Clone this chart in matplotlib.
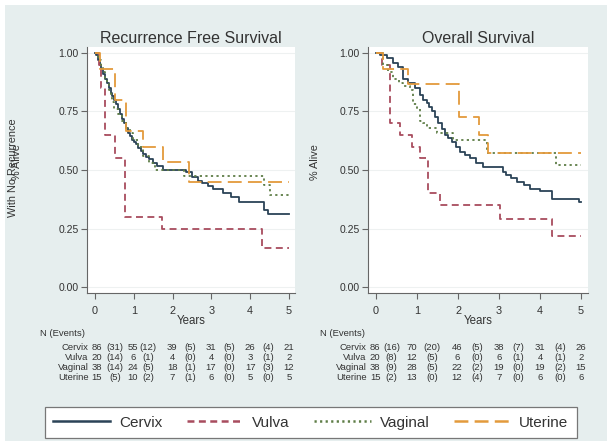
import matplotlib.pyplot as plt
from matplotlib.patches import Rectangle
from matplotlib.lines import Line2D

plt.rcParams['font.family'] = ['Liberation Sans', 'DejaVu Sans']
plt.rcParams['lines.scale_dashes'] = False

W, H = 616, 447

groups = ["Cervix", "Vulva", "Vaginal", "Uterine"]
colors = ["#2b4357", "#a84c5e", "#5e7d46", "#e39a3c"]
dashes = [None, (5, 3.2), (1.6, 2.4), (10, 4.5)]

# --- Recurrence free survival (Kaplan-Meier steps) ---
rfs_cervix_t = [0, .03, .07, .12, .16, .2, .25, .3, .35, .4, .45, .5, .55, .6, .65, .7, .75, .8, .85, .9,
                .95, 1.0, 1.06, 1.12, 1.18, 1.25, 1.32, 1.4, 1.5, 1.6, 1.75, 2.35, 2.5, 2.65, 2.75, 2.9,
                3.05, 3.3, 3.5, 3.7, 4.35, 4.45, 5.0]
rfs_cervix_s = [1, .99, .97, .95, .93, .91, .89, .87, .85, .83, .815, .80, .78, .76, .74, .72, .70, .68, .66, .645,
                .63, .62, .61, .595, .58, .57, .555, .545, .53, .515, .50, .49, .47, .455, .445, .43,
                .42, .40, .385, .365, .33, .31, .31]
rfs_vulva_t = [0, .1, .15, .26, .52, .77, 1.72, 4.3, 5.0]
rfs_vulva_s = [1, .95, .85, .65, .55, .30, .25, .167, .167]
rfs_vaginal_t = [0, .08, .15, .2, .25, .3, .35, .4, .45, .5, .6, .7, .8, .9, .97, 1.1, 1.25, 1.4, 1.55,
                 2.3, 4.35, 4.5, 5.0]
rfs_vaginal_s = [1, .97, .95, .92, .895, .87, .84, .82, .79, .76, .74, .71, .68, .66, .63, .60, .56, .53, .50,
                 .475, .435, .395, .395]
rfs_uterine_t = [0, .12, .52, .8, 1.24, 1.76, 2.42, 5.0]
rfs_uterine_s = [1, .933, .80, .667, .60, .533, .45, .45]

# --- Overall survival ---
os_cervix_t = [0, .1, .26, .42, .54, .67, .79, .95, 1.07, 1.15, 1.24, 1.3, 1.36, 1.44, 1.52, 1.6, 1.68,
               1.76, 1.85, 1.95, 2.05, 2.17, 2.29, 2.45, 2.62, 3.1, 3.18, 3.3, 3.43, 3.6, 3.76, 4.0,
               4.3, 4.95, 5.0]
os_cervix_s = [1, .99, .977, .956, .94, .89, .87, .85, .82, .80, .785, .77, .75, .725, .70, .675, .65,
               .635, .62, .60, .578, .565, .55, .53, .514, .493, .478, .465, .45, .435, .42, .41,
               .375, .365, .365]
os_vulva_t = [0, .15, .34, .59, .87, 1.07, 1.26, 1.56, 3.02, 4.28, 5.0]
os_vulva_s = [1, .95, .70, .65, .60, .55, .40, .35, .29, .22, .22]
os_vaginal_t = [0, .18, .3, .42, .55, .67, .83, .91, 1.0, 1.07, 1.15, 1.24, 1.48, 1.89, 2.7, 4.4, 5.0]
os_vaginal_s = [1, .95, .92, .89, .87, .86, .84, .78, .76, .71, .70, .68, .657, .628, .571, .52, .52]
os_uterine_t = [0, .18, .79, 2.03, 2.5, 2.74, 5.0]
os_uterine_s = [1, .933, .867, .728, .65, .571, .571]

# --- number at risk (events) tables ---
rfs_table_cervix = [86, 31, 55, 12, 39, 5, 31, 5, 26, 4, 21]
rfs_table_vulva = [20, 14, 6, 1, 4, 0, 4, 0, 3, 1, 2]
rfs_table_vaginal = [38, 14, 24, 5, 18, 1, 17, 0, 17, 3, 12]
rfs_table_uterine = [15, 5, 10, 2, 7, 1, 6, 0, 5, 0, 5]
os_table_cervix = [86, 16, 70, 20, 46, 5, 38, 7, 31, 4, 26]
os_table_vulva = [20, 8, 12, 5, 6, 0, 6, 1, 4, 1, 2]
os_table_vaginal = [38, 9, 28, 5, 22, 2, 19, 0, 19, 2, 15]
os_table_uterine = [15, 2, 13, 0, 12, 4, 7, 0, 6, 0, 6]

rfs_cols = [0.04, 0.52, 0.98, 1.37, 1.99, 2.46, 2.99, 3.46, 4.0, 4.46, 5.0]
os_cols = [-0.02, 0.38, 0.87, 1.36, 1.97, 2.46, 3.0, 3.46, 4.0, 4.49, 5.0]

fig = plt.figure(figsize=(W / 100, H / 100), dpi=100, facecolor="white")
fig.patches.append(Rectangle((5 / W, 1 - 441 / H), 602 / W, 436 / H, transform=fig.transFigure,
                             facecolor="#e6eeee", edgecolor="none", zorder=-5))


def setup(ax, title, xlim):
  ax.set_facecolor("white")
  ax.set_xlim(*xlim)
  ax.set_ylim(-0.0256, 1.0256)
  ax.set_yticks([0, .25, .5, .75, 1])
  ax.set_yticklabels(["0.00", "0.25", "0.50", "0.75", "1.00"])
  ax.set_xticks(range(6))
  ax.grid(axis="y", color="#eef1f1", linewidth=0.8)
  ax.set_axisbelow(True)
  for s in ["top", "right"]:
    ax.spines[s].set_visible(False)
  for s in ["left", "bottom"]:
    ax.spines[s].set_color("#666666")
    ax.spines[s].set_linewidth(0.8)
  ax.tick_params(axis="y", direction="out", length=4, width=0.8, color="#666666",
                 labelsize=7.5, pad=2, labelcolor="#333333")
  ax.tick_params(axis="x", direction="out", length=4, width=0.8, color="#666666",
                 labelsize=7.8, pad=5, labelcolor="#333333")
  ax.set_title(title, fontsize=11.5, pad=3, color="#333333")
  ax.set_xlabel("Years", fontsize=8.3, labelpad=-0.5, color="#333333")


def draw(ax, series):
  for (t, s), c, d in zip(series, colors, dashes):
    line, = ax.step(t, s, where="post", color=c, linewidth=1.3)
    if d is not None:
      line.set_dashes(d)


def table(ax, rows, cols, label_x, header_x):
  fig.text(header_x / W, 1 - 333 / H, "N (Events)", fontsize=6.8, color="#333333",
           ha="left", va="center")
  for i, (name, row) in enumerate(zip(groups, rows)):
    y = 1 - (347 + 10 * i) / H
    fig.text(label_x / W, y, name, fontsize=6.8, color="#333333", ha="right", va="center")
    for j, (v, x) in enumerate(zip(row, cols)):
      txt = str(v) if j % 2 == 0 else "(" + str(v) + ")"
      xf = fig.transFigure.inverted().transform(ax.transData.transform((x, 0)))[0]
      fig.text(xf, y, txt, fontsize=6.8, color="#333333", ha="center", va="center")


ax1 = fig.add_axes([87 / W, 1 - 293 / H, 208 / W, 246 / H])
setup(ax1, "Recurrence Free Survival", (-0.206, 5.155))
draw(ax1, [(rfs_cervix_t, rfs_cervix_s), (rfs_vulva_t, rfs_vulva_s),
           (rfs_vaginal_t, rfs_vaginal_s), (rfs_uterine_t, rfs_uterine_s)])

ax2 = fig.add_axes([368 / W, 1 - 293 / H, 220 / W, 246 / H])
setup(ax2, "Overall Survival", (-0.195, 5.17))
draw(ax2, [(os_cervix_t, os_cervix_s), (os_vulva_t, os_vulva_s),
           (os_vaginal_t, os_vaginal_s), (os_uterine_t, os_uterine_s)])

# overlapping y labels as in the original
fig.text(13 / W, 1 - 168 / H, "With No Recurrence", rotation=90, fontsize=7.8,
         color="#333333", ha="center", va="center")
fig.text(17 / W, 1 - 162 / H, "% Alive", rotation=90, fontsize=7.8,
         color="#333333", ha="center", va="center")
fig.text(315 / W, 1 - 162 / H, "% Alive", rotation=90, fontsize=7.8,
         color="#333333", ha="center", va="center")

table(ax1, [rfs_table_cervix, rfs_table_vulva, rfs_table_vaginal, rfs_table_uterine],
      rfs_cols, 88.5, 40)
table(ax2, [os_table_cervix, os_table_vulva, os_table_vaginal, os_table_uterine],
      os_cols, 366.5, 320)

handles = []
for c, d in zip(colors, dashes):
  h = Line2D([], [], color=c, linewidth=1.8)
  if d is not None:
    h.set_dashes(d)
  handles.append(h)
leg = fig.legend(handles, groups, loc="lower left",
                 bbox_to_anchor=(45 / W, 1 - 438 / H, 532 / W, 33 / H), mode="expand",
                 ncol=4, fontsize=11, handlelength=3.7, handletextpad=0.6,
                 borderaxespad=0, borderpad=0.55, fancybox=False, framealpha=1,
                 edgecolor="#777777")
leg.get_frame().set_linewidth(0.9)
for t in leg.get_texts():
  t.set_color("#333333")

fig.savefig("out.png", dpi=100, facecolor=fig.get_facecolor())
